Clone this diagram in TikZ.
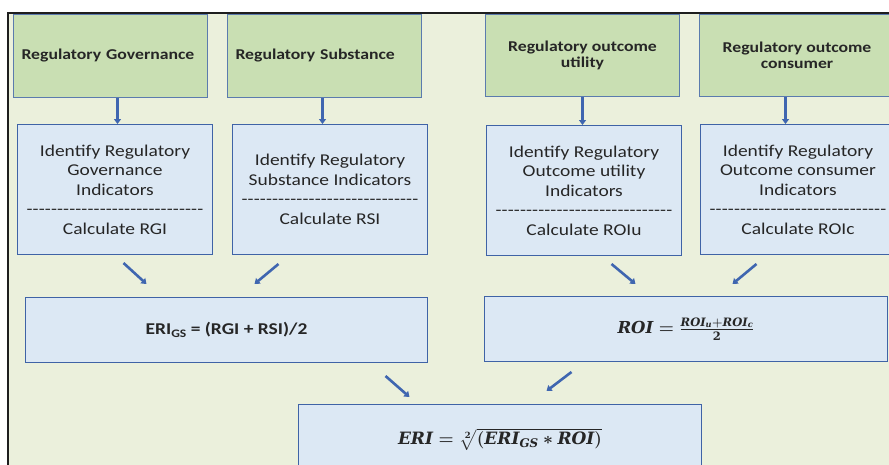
\documentclass[tikz,border=0pt]{standalone}
\usepackage{amsmath}
\usepackage{fontspec}
\setmainfont[FakeStretch=1.18]{Carlito}
\newfontfamily\mfont{DejaVu Serif}
\newcommand\mv[1]{\text{\mfont\bfseries\itshape #1}}
\newcommand\mup[1]{\text{\mfont\bfseries #1}}
\usetikzlibrary{arrows.meta,calc}
\definecolor{bgc}{HTML}{EBF0DC}
\definecolor{gfill}{HTML}{C9DFB3}
\definecolor{gborder}{HTML}{5B7BAE}
\definecolor{bfill}{HTML}{DCE8F4}
\definecolor{bborder}{HTML}{3F63A6}
\definecolor{arrc}{HTML}{3F66B0}
\definecolor{txt}{HTML}{262626}
\definecolor{framec}{HTML}{1E1E1E}
\newcommand\dashln{\hbox to 177pt{\xleaders\hbox{-}\hfill}}
\tikzset{
  gbox/.style={draw=gborder, fill=gfill, line width=1pt, anchor=north west, inner sep=0pt,
    font=\fontsize{15}{16.5}\selectfont\bfseries, text=txt, align=center},
  gboxl/.style={gbox, text width=178pt, inner xsep=8pt, align=left},
  bbox/.style={draw=bborder, fill=bfill, line width=1pt, anchor=north west, inner sep=0pt,
    font=\fontsize{16.5}{19.5}\selectfont, text=txt, align=center},
  arr/.style={draw=arrc, line width=2.6pt, -{Triangle[width=7pt,length=5pt]}}
}
\begin{document}
\begin{tikzpicture}[x=1pt,y=-1pt]
\useasboundingbox (0,0) rectangle (889,464);
\clip (0,0) rectangle (889,464);
\fill[bgc] (8,13) rectangle (900,470);
\draw[framec,line width=2pt] (8,475) -- (8,13) -- (900,13);

\node[gboxl, minimum height=83] (g1) at (13,14) {Regulatory Governance};
\node[gboxl, minimum height=83] (g2) at (227,14) {Regulatory Substance};
\node[gbox, minimum width=194, minimum height=82] (g3) at (485,14) {Regulatory outcome\\utility};
\node[gbox, minimum width=195, minimum height=82] (g4) at (699,14) {Regulatory outcome\\consumer};

\node[bbox, minimum width=195, minimum height=130] (b1) at (17,124)
  {Identify Regulatory\\Governance\\Indicators\\\dashln\\Calculate RGI};
\node[bbox, minimum width=195, minimum height=130] (b2) at (232,124)
  {Identify Regulatory\\Substance Indicators\\\dashln\\Calculate RSI};
\node[bbox, minimum width=195, minimum height=130] (b3) at (486,125)
  {Identify Regulatory\\Outcome utility\\Indicators\\\dashln\\Calculate ROIu};
\node[bbox, minimum width=195, minimum height=130] (b4) at (700,124)
  {Identify Regulatory\\Outcome consumer\\Indicators\\\dashln\\Calculate ROIc};

\node[bbox, minimum width=402, minimum height=65, font=\fontsize{16.5}{18}\selectfont\bfseries] (eg) at (25,297)
  {ERI\raisebox{-2.5pt}{\fontsize{11.5}{10}\selectfont GS} = (RGI + RSI)/2};
\node[bbox, minimum width=403, minimum height=65, font=\fontsize{16.5}{18}\selectfont\boldmath] (roi) at (484,296)
  {$\mv{ROI} = \frac{\rule[-2.5pt]{0pt}{1pt}\mv{ROI}_{\mv{u}}+\mv{ROI}_{\mv{c}}}{\mup{2}}$};
\node[bbox, minimum width=403, minimum height=70, font=\fontsize{17}{18}\selectfont\boldmath] (eri) at (298,404)
  {$\mv{ERI} = \sqrt[\mup{2}]{(\mv{ERI}_{\mv{GS}} \ast \mv{ROI})}$};

\draw[arr] ([xshift=7]g1.south) -- ([xshift=7]g1.south |- b1.north);
\draw[arr] ([xshift=-2]g2.south) -- ([xshift=-2]g2.south |- b2.north);
\draw[arr] (g3.south) -- (g3.south |- b3.north);
\draw[arr] ([xshift=-11.5]g4.south) -- ([xshift=-11.5]g4.south |- b4.north);

\draw[arr] ([shift={(8.5,8)}]b1.south) -- ([shift={(-80,-13)}]eg.north);
\draw[arr] ([shift={(-51.5,9)}]b2.south) -- ([shift={(28,-13)}]eg.north);
\draw[arr] ([shift={(27.5,8)}]b3.south) -- ([shift={(-50.5,-12)}]roi.north);
\draw[arr] ([shift={(-41.5,9)}]b4.south) -- ([shift={(46.5,-12)}]roi.north);
\draw[arr] ([shift={(159,13)}]eg.south) -- ([shift={(-90.5,-7)}]eri.north);
\draw[arr] ([shift={(-114.5,10)}]roi.south) -- ([shift={(46.5,-13)}]eri.north);
\end{tikzpicture}
\end{document}
